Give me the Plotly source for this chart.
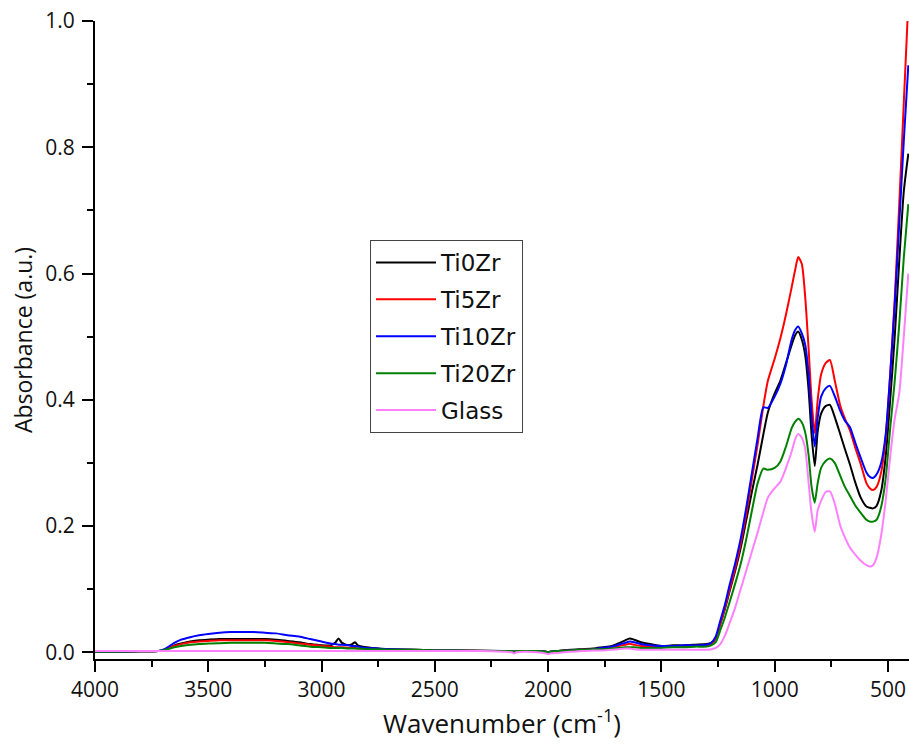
import plotly.graph_objects as go

wavenumber = [
    4000, 3900, 3800, 3720, 3700, 3680, 3650, 3620, 3580, 3540,
    3500, 3450, 3400, 3350, 3300, 3250, 3200, 3150, 3100, 3050,
    3000, 2960, 2940, 2925, 2910, 2880, 2865, 2852, 2840, 2800,
    2750, 2700, 2600, 2500, 2400, 2300, 2200, 2160, 2150, 2140,
    2100, 2050, 2010, 2000, 1990, 1960, 1900, 1850, 1800, 1760,
    1720, 1690, 1660, 1640, 1620, 1590, 1550, 1500, 1450, 1400,
    1350, 1300, 1280, 1260, 1240, 1220, 1200, 1175, 1150, 1125,
    1100, 1075, 1050, 1030, 1000, 975, 950, 925, 910, 896,
    880, 865, 850, 837, 823, 810, 795, 775, 756, 735,
    710, 690, 668, 645, 620, 595, 580, 566, 550, 530,
    510, 490, 470, 450, 430, 410,
]

ti0zr = [
    0.001, 0.001, 0.0015, 0.002, 0.003, 0.006, 0.011, 0.014, 0.017, 0.019,
    0.020, 0.021, 0.021, 0.021, 0.021, 0.021, 0.020, 0.018, 0.016, 0.013,
    0.011, 0.011, 0.015, 0.022, 0.015, 0.011, 0.013, 0.016, 0.011, 0.008,
    0.006, 0.005, 0.004, 0.003, 0.003, 0.003, 0.002, 0.002, 0.001, 0.002,
    0.002, 0.002, 0.001, 0.000, 0.001, 0.002, 0.004, 0.005, 0.006, 0.008,
    0.010, 0.014, 0.019, 0.022, 0.020, 0.016, 0.013, 0.010, 0.011, 0.011,
    0.012, 0.013, 0.015, 0.022, 0.045, 0.068, 0.095, 0.128, 0.165, 0.210,
    0.255, 0.298, 0.345, 0.380, 0.410, 0.430, 0.458, 0.487, 0.502, 0.508,
    0.495, 0.470, 0.415, 0.345, 0.295, 0.350, 0.378, 0.390, 0.392, 0.373,
    0.345, 0.322, 0.298, 0.270, 0.245, 0.231, 0.229, 0.228, 0.232, 0.255,
    0.310, 0.400, 0.500, 0.620, 0.730, 0.790,
]

ti5zr = [
    0.001, 0.001, 0.0015, 0.002, 0.003, 0.006, 0.010, 0.013, 0.016, 0.017,
    0.018, 0.019, 0.019, 0.019, 0.019, 0.019, 0.018, 0.016, 0.014, 0.012,
    0.010, 0.009, 0.008, 0.008, 0.008, 0.007, 0.007, 0.007, 0.006, 0.006,
    0.005, 0.004, 0.004, 0.003, 0.003, 0.002, 0.002, 0.002, 0.001, 0.002,
    0.002, 0.002, 0.001, 0.000, 0.001, 0.002, 0.003, 0.004, 0.005, 0.006,
    0.008, 0.010, 0.012, 0.0135, 0.012, 0.010, 0.009, 0.009, 0.009, 0.010,
    0.010, 0.011, 0.013, 0.022, 0.045, 0.070, 0.098, 0.132, 0.172, 0.220,
    0.275, 0.330, 0.390, 0.430, 0.465, 0.497, 0.535, 0.578, 0.605, 0.626,
    0.615, 0.562, 0.480, 0.400, 0.347, 0.400, 0.440, 0.458, 0.463, 0.431,
    0.390, 0.370, 0.352, 0.325, 0.298, 0.268, 0.260, 0.257, 0.262, 0.285,
    0.340, 0.440, 0.560, 0.710, 0.870, 1.030,
]

ti10zr = [
    0.001, 0.001, 0.0015, 0.002, 0.004, 0.008, 0.015, 0.020, 0.024, 0.027,
    0.029, 0.031, 0.032, 0.032, 0.032, 0.031, 0.030, 0.027, 0.025, 0.021,
    0.017, 0.014, 0.013, 0.012, 0.012, 0.011, 0.010, 0.010, 0.009, 0.007,
    0.006, 0.005, 0.004, 0.003, 0.003, 0.002, 0.002, 0.002, 0.001, 0.002,
    0.002, 0.002, 0.001, 0.000, 0.001, 0.002, 0.003, 0.004, 0.005, 0.007,
    0.009, 0.012, 0.015, 0.017, 0.016, 0.013, 0.011, 0.010, 0.010, 0.011,
    0.011, 0.012, 0.015, 0.025, 0.050, 0.075, 0.105, 0.140, 0.180, 0.230,
    0.285, 0.340, 0.388, 0.387, 0.405, 0.425, 0.455, 0.495, 0.510, 0.516,
    0.505, 0.487, 0.440, 0.375, 0.326, 0.372, 0.405, 0.418, 0.422, 0.406,
    0.382, 0.367, 0.357, 0.333, 0.308, 0.285, 0.278, 0.276, 0.282, 0.300,
    0.345, 0.440, 0.550, 0.680, 0.810, 0.930,
]

ti20zr = [
    0.001, 0.001, 0.0015, 0.002, 0.003, 0.005, 0.008, 0.010, 0.012, 0.013,
    0.014, 0.0145, 0.015, 0.015, 0.015, 0.015, 0.014, 0.013, 0.011, 0.009,
    0.008, 0.007, 0.007, 0.007, 0.007, 0.006, 0.006, 0.006, 0.006, 0.005,
    0.005, 0.004, 0.004, 0.003, 0.003, 0.002, 0.002, 0.002, 0.001, 0.002,
    0.002, 0.002, 0.001, 0.000, 0.001, 0.002, 0.003, 0.004, 0.005, 0.005,
    0.006, 0.007, 0.008, 0.008, 0.008, 0.007, 0.007, 0.007, 0.008, 0.008,
    0.009, 0.009, 0.011, 0.016, 0.035, 0.055, 0.078, 0.108, 0.140, 0.180,
    0.225, 0.268, 0.291, 0.289, 0.292, 0.302, 0.326, 0.355, 0.365, 0.370,
    0.364, 0.348, 0.312, 0.262, 0.237, 0.268, 0.292, 0.303, 0.307, 0.300,
    0.279, 0.262, 0.248, 0.233, 0.221, 0.210, 0.207, 0.207, 0.210, 0.230,
    0.275, 0.355, 0.430, 0.520, 0.625, 0.710,
]

glass = [
    0.002, 0.002, 0.002, 0.002, 0.002, 0.002, 0.002, 0.002, 0.002, 0.002,
    0.002, 0.002, 0.002, 0.002, 0.002, 0.002, 0.002, 0.002, 0.002, 0.002,
    0.002, 0.002, 0.002, 0.002, 0.002, 0.002, 0.002, 0.002, 0.002, 0.002,
    0.002, 0.002, 0.002, 0.002, 0.002, 0.002, 0.001, 0.000, -0.002, 0.000,
    0.001, 0.000, -0.002, -0.003, -0.002, -0.001, 0.001, 0.002, 0.003, 0.003,
    0.004, 0.005, 0.006, 0.006, 0.005, 0.004, 0.004, 0.004, 0.004, 0.004,
    0.004, 0.004, 0.005, 0.007, 0.013, 0.026, 0.045, 0.070, 0.100, 0.130,
    0.160, 0.190, 0.222, 0.245, 0.260, 0.270, 0.292, 0.318, 0.337, 0.346,
    0.340, 0.322, 0.268, 0.220, 0.191, 0.225, 0.240, 0.254, 0.255, 0.236,
    0.200, 0.182, 0.166, 0.155, 0.145, 0.138, 0.136, 0.138, 0.150, 0.185,
    0.240, 0.310, 0.370, 0.410, 0.500, 0.600,
]

series_names = ["Ti0Zr", "Ti5Zr", "Ti10Zr", "Ti20Zr", "Glass"]
series_values = [ti0zr, ti5zr, ti10zr, ti20zr, glass]
series_colors = ["#000000", "#ff0000", "#0000ff", "#008000", "#ff80ff"]

x_ticks = [4000, 3500, 3000, 2500, 2000, 1500, 1000, 500]
y_ticks = [0.0, 0.2, 0.4, 0.6, 0.8, 1.0]

fig = go.Figure()
for name, vals, col in zip(series_names, series_values, series_colors):
    fig.add_trace(go.Scatter(
        x=wavenumber, y=vals, mode="lines", name=name,
        legendgroup=name,
        line=dict(color=col, width=2, shape="spline", smoothing=0.6),
    ))

font_family = "Open Sans, DejaVu Sans, sans-serif"
legend_family = "DejaVu Sans, Open Sans, sans-serif"

fig.update_layout(
    width=909, height=747,
    margin=dict(l=95, r=0, t=21, b=88),
    paper_bgcolor="white", plot_bgcolor="white",
    font=dict(family=font_family, size=21, color="#111111"),
    showlegend=True,
    legend=dict(
        x=(370 - 95) / 814, y=(659 - 240) / 638, xanchor="left", yanchor="top",
        bordercolor="#444444", borderwidth=1, bgcolor="white",
        font=dict(family=legend_family, size=23, color="#111111"),
        tracegroupgap=4, itemwidth=60,
    ),
    xaxis=dict(
        range=[4000, 407], tickvals=x_ticks,
        ticktext=[str(v) for v in x_ticks],
        showline=True, linecolor="black", linewidth=2, mirror=False,
        ticks="outside", ticklen=11, tickwidth=2, tickcolor="black",
        minor=dict(dtick=250, ticks="outside", ticklen=6, tickwidth=2, tickcolor="black", showgrid=False),
        showgrid=False, zeroline=False,
        tickfont=dict(size=21),
        title=dict(text="Wavenumber (cm<sup>-1</sup>)", font=dict(size=26), standoff=10),
    ),
    yaxis=dict(
        range=[-0.0106, 1.0], tickvals=y_ticks,
        ticktext=["%.1f" % v for v in y_ticks],
        showline=True, linecolor="black", linewidth=2,
        ticks="outside", ticklen=11, tickwidth=2, tickcolor="black",
        ticklabelstandoff=3,
        minor=dict(dtick=0.1, tick0=0, ticks="outside", ticklen=6, tickwidth=2, tickcolor="black", showgrid=False),
        showgrid=False, zeroline=False,
        tickfont=dict(size=21),
        title=dict(text="Absorbance (a.u.)", font=dict(size=23), standoff=6),
    ),
)

fig.write_html("out.html")
